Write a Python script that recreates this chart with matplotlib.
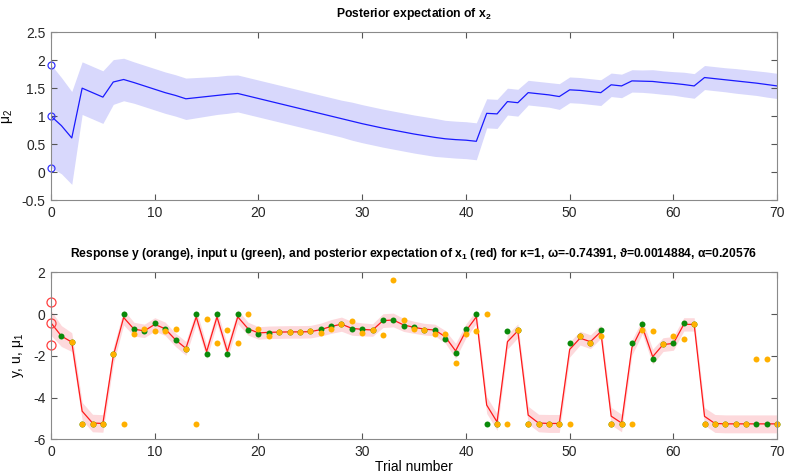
import numpy as np
import matplotlib
matplotlib.use('Agg')
from matplotlib import pyplot as plt

plt.rcParams['font.family'] = ['Liberation Sans', 'DejaVu Sans']
plt.rcParams['mathtext.fontset'] = 'custom'
plt.rcParams['mathtext.rm'] = 'Liberation Sans'
plt.rcParams['mathtext.default'] = 'regular'

# 试次编号 0..70
trials = np.arange(0, 71)

# 上图: x2 的后验期望 mu2 及其标准差
mu2 = [1.00, 0.83, 0.61, 1.50, 1.42, 1.34, 1.61, 1.655, 1.60, 1.54,
       1.48, 1.42, 1.37, 1.31, 1.33, 1.35, 1.37, 1.39, 1.405, 1.36,
       1.315, 1.27, 1.225, 1.18, 1.135, 1.09, 1.045, 1.00, 0.955, 0.91,
       0.865, 0.825, 0.785, 0.75, 0.715, 0.68, 0.65, 0.62, 0.595, 0.58,
       0.57, 0.55, 1.05, 1.04, 1.26, 1.24, 1.42, 1.40, 1.38, 1.35,
       1.47, 1.46, 1.44, 1.42, 1.56, 1.54, 1.63, 1.625, 1.62, 1.60,
       1.585, 1.565, 1.54, 1.69, 1.67, 1.65, 1.63, 1.61, 1.59, 1.565,
       1.54]
sd2 = [0.92, 0.86, 0.83, 0.47, 0.47, 0.47, 0.40, 0.38, 0.37, 0.37,
       0.37, 0.37, 0.37, 0.37, 0.36, 0.35, 0.34, 0.34, 0.33, 0.33,
       0.33, 0.33, 0.33, 0.33, 0.33, 0.33, 0.33, 0.33, 0.33, 0.34,
       0.34, 0.34, 0.34, 0.34, 0.34, 0.34, 0.34, 0.34, 0.33, 0.33,
       0.33, 0.33, 0.26, 0.26, 0.24, 0.24, 0.22, 0.22, 0.22, 0.23,
       0.23, 0.23, 0.23, 0.23, 0.21, 0.21, 0.20, 0.20, 0.21, 0.21,
       0.21, 0.22, 0.22, 0.215, 0.215, 0.215, 0.22, 0.22, 0.22, 0.225,
       0.225]

# 下图: x1 的后验期望 mu1 及其标准差
mu1 = [-0.42, -1.05, -1.34, -4.65, -5.22, -5.24, -2.00, -0.16, -0.72, -0.80,
       -0.49, -0.70, -1.23, -1.64, -0.13, -1.80, -0.13, -1.80, -0.13, -0.70,
       -0.90, -0.87, -0.86, -0.85, -0.85, -0.84, -0.74, -0.59, -0.48, -0.68,
       -0.73, -0.76, -0.31, -0.28, -0.52, -0.63, -0.72, -0.76, -1.08, -1.76,
       -0.80, -0.13, -4.36, -5.17, -1.32, -0.80, -4.84, -5.22, -5.24, -5.24,
       -1.69, -1.15, -1.32, -0.84, -4.89, -5.22, -1.60, -0.60, -2.04, -1.46,
       -1.40, -0.49, -0.49, -4.90, -5.24, -5.26, -5.26, -5.26, -5.26, -5.26,
       -5.26]
sd1 = [0.60, 0.50, 0.45, 0.42, 0.42, 0.42, 0.40, 0.36, 0.33, 0.32,
       0.32, 0.32, 0.32, 0.33, 0.33, 0.33, 0.33, 0.33, 0.33, 0.31,
       0.30, 0.30, 0.30, 0.30, 0.30, 0.30, 0.31, 0.33, 0.34, 0.33,
       0.31, 0.30, 0.33, 0.33, 0.31, 0.29, 0.28, 0.28, 0.30, 0.36,
       0.33, 0.32, 0.40, 0.40, 0.35, 0.33, 0.42, 0.42, 0.43, 0.43,
       0.36, 0.33, 0.33, 0.32, 0.42, 0.42, 0.36, 0.34, 0.36, 0.33,
       0.33, 0.32, 0.32, 0.42, 0.43, 0.43, 0.43, 0.43, 0.43, 0.43,
       0.43]
mu1_prior = -0.42
mu1_prior_bounds = [0.58, -1.46]
mu2_prior_bounds = [1.92, 0.08]

# 输入 u (绿) 和反应 y (橙), 试次 1..70
u = [-1.07, -1.35, -5.28, -5.28, -5.28, -1.92, 0.03, -0.72, -0.83, -0.43,
     -0.69, -1.26, -1.65, 0.03, -1.93, 0.03, -1.93, 0.03, -0.77, -0.96,
     -0.88, -0.86, -0.85, -0.85, -0.83, -0.70, -0.56, -0.46, -0.70, -0.72,
     -0.77, -0.27, -0.27, -0.57, -0.61, -0.75, -0.75, -1.18, -1.87, -0.69,
     0.03, -5.28, -5.28, -0.81, -0.75, -5.28, -5.28, -5.28, -5.28, -1.36,
     -1.07, -1.36, -0.77, -5.28, -5.28, -1.36, -0.48, -2.17, -1.44, -1.36,
     -0.43, -0.49, -5.28, -5.28, -5.28, -5.28, -5.28, -5.28, -5.28, -5.28]
y = [np.nan, -1.35, -5.28, -5.28, -5.28, -1.92, -5.28, -0.93, -0.69, -0.83,
     -0.81, -0.72, -1.65, -5.28, -0.22, -1.37, -0.77, -1.37, 0.02, -0.73,
     -1.07, -0.86, -0.85, -0.85, -0.83, -0.88, -0.70, -0.46, -0.35, -0.88,
     -0.77, -1.00, 1.63, -0.29, -0.72, -0.75, -0.93, -0.96, -2.33, -0.93,
     -0.81, 0.03, -5.28, -5.28, -0.75, -5.28, -5.28, -5.28, -5.28, -5.28,
     -1.07, -1.36, -1.07, -5.28, -5.28, -5.28, -0.77, -0.81, -1.44, -1.07,
     -1.18, -0.49, -5.28, -5.28, -5.28, -5.28, -5.28, -2.17, -2.17, -5.28]

top_yticks = [-0.5, 0, 0.5, 1, 1.5, 2, 2.5]
top_yticklabels = ['-0.5', '0', '0.5', '1', '1.5', '2', '2.5']
bot_yticks = [-6, -4, -2, 0, 2]
bot_yticklabels = ['-6', '-4', '-2', '0', '2']
xticks = [0, 10, 20, 30, 40, 50, 60, 70]

title_top = 'Posterior expectation of x$_2$'
title_bot = ('Response y (orange), input u (green), and posterior expectation of x$_1$ (red) '
             'for κ=1, ω=-0.74391, ϑ=0.0014884, α=0.20576')

fig = plt.figure(figsize=(7.85, 4.74), dpi=100)
ax1 = fig.add_axes([0.065, 0.578, 0.925, 0.354])
ax2 = fig.add_axes([0.065, 0.0732, 0.925, 0.352])

mu2 = np.array(mu2); sd2 = np.array(sd2)
mu1 = np.array(mu1); sd1 = np.array(sd1)
t1 = trials[1:]

ax1.fill_between(trials, mu2 + sd2, mu2 - sd2, color='#d8d8fc', linewidth=0)
ax1.plot(trials, mu2, color='#1a1aff', linewidth=0.9)
ax1.plot([0, 0, 0], [mu2[0]] + mu2_prior_bounds, 'o', mfc='none', mec='#3333ff',
         markersize=5, markeredgewidth=0.9, clip_on=False)

ax2.fill_between(trials, mu1 + sd1, mu1 - sd1, color='#fdd9dc', linewidth=0)
ax2.plot(trials, mu1, color='#ff1a1a', linewidth=0.9)
ax2.plot(t1, u, 'o', color='#0a8a0a', markersize=4.3, markeredgewidth=0, clip_on=False)
ax2.plot(t1, y, 'o', color='#ffb000', markersize=4.3, markeredgewidth=0, clip_on=False)
ax2.plot([0, 0, 0], [mu1_prior] + mu1_prior_bounds, 'o', mfc='none', mec='#ff4040',
         markersize=6.5, markeredgewidth=0.9, clip_on=False)

for ax, yt, ytl, yl in [(ax1, top_yticks, top_yticklabels, (-0.5, 2.5)),
                        (ax2, bot_yticks, bot_yticklabels, (-6, 2))]:
    ax.set_xlim(0, 70)
    ax.set_ylim(*yl)
    ax.set_xticks(xticks)
    ax.set_xticklabels([str(v) for v in xticks])
    ax.set_yticks(yt)
    ax.set_yticklabels(ytl)
    ax.tick_params(direction='in', top=True, right=True, length=4, width=0.8,
                   color='#555555', labelcolor='#262626', labelsize=10, pad=4)
    for s in ax.spines.values():
        s.set_color('#8a8a8a')
        s.set_linewidth(0.8)

ax1.set_title(title_top, fontsize=8.7, fontweight='bold', pad=11)
ax2.set_title(title_bot, fontsize=8.7, fontweight='bold', pad=11)
ax1.set_ylabel('μ$_2$', fontsize=10, labelpad=5)
ax2.set_ylabel('y, u, μ$_1$', fontsize=10, labelpad=5)
ax2.set_xlabel('Trial number', fontsize=10, labelpad=1)

fig.savefig('out.png', dpi=100)
